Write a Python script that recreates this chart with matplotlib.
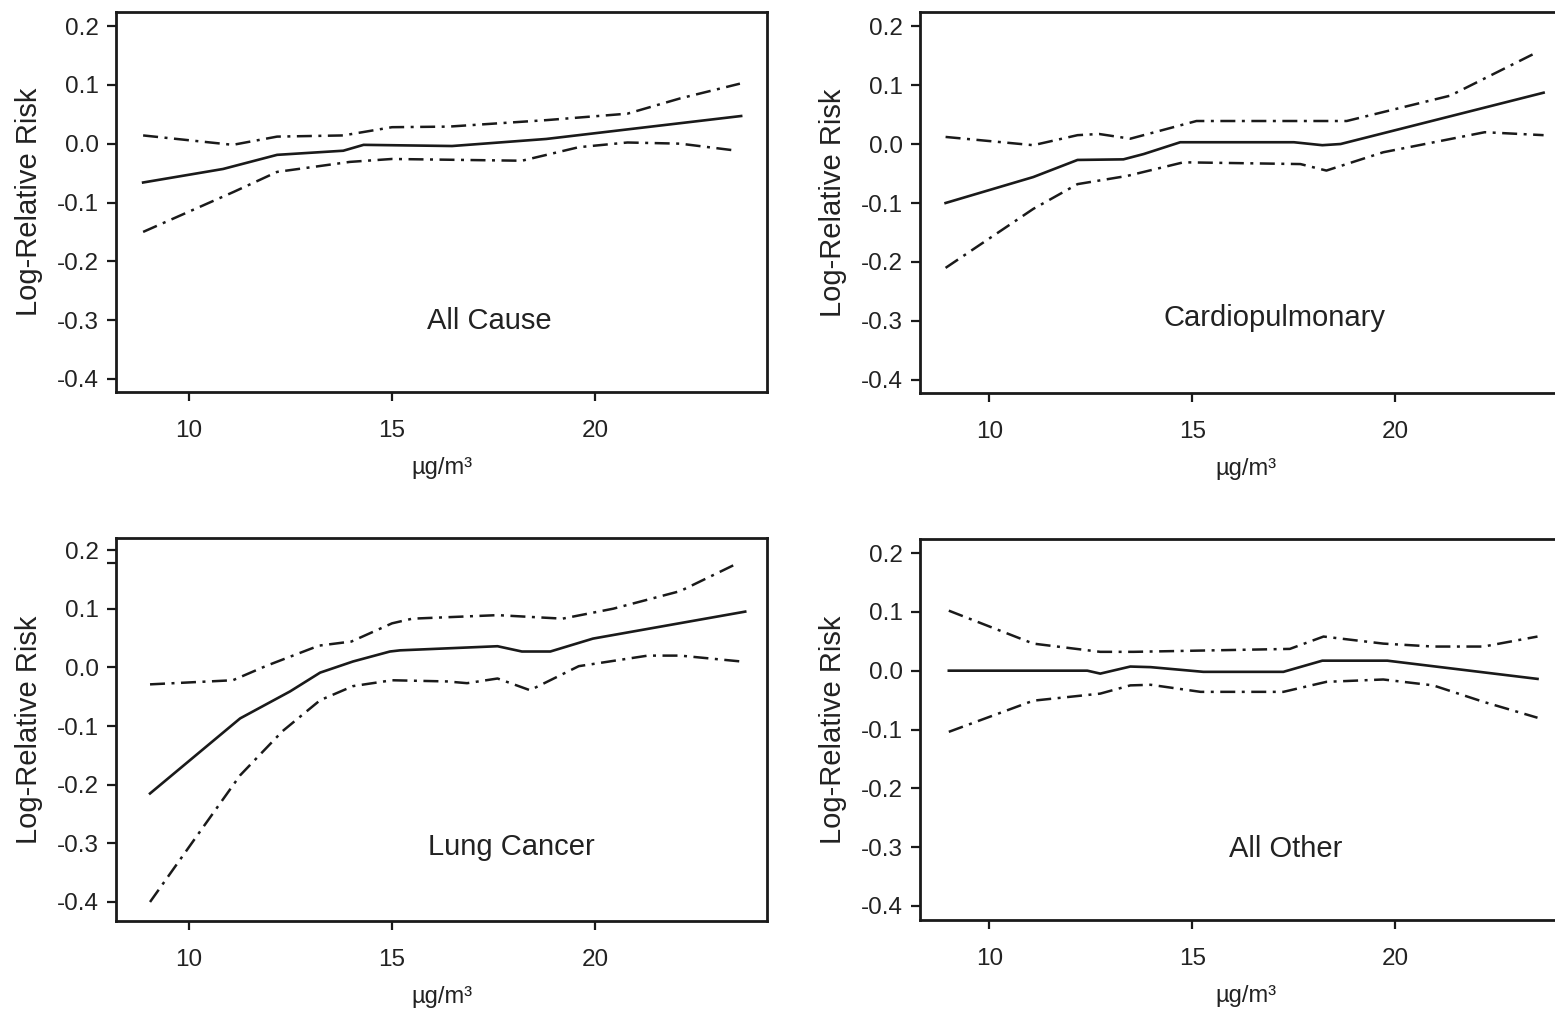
import matplotlib

matplotlib.use("Agg")
import matplotlib.pyplot as plt

plt.rcParams["font.family"] = ["Liberation Sans", "DejaVu Sans"]

# PM2.5 concentration (ug/m3) vs log-relative risk
# All Cause
ac_x = [8.87, 10.84, 12.17, 13.8, 14.3, 16.48, 18.8, 23.6]
ac_fit = [-0.066, -0.043, -0.019, -0.012, -0.002, -0.004, 0.008, 0.047]
ac_up_x = [8.87, 11.08, 12.17, 13.8, 15.0, 16.4, 18.8, 20.8, 22.1, 23.57]
ac_up = [0.014, -0.002, 0.012, 0.014, 0.028, 0.029, 0.040, 0.051, 0.077, 0.102]
ac_lo_x = [8.87, 11.1, 12.17, 13.96, 15.0, 18.2, 19.6, 20.8, 22.1, 23.5]
ac_lo = [-0.150, -0.082, -0.048, -0.031, -0.026, -0.029, -0.006, 0.002, 0.0, -0.012]

# Cardiopulmonary
cp_x = [8.92, 11.08, 12.17, 13.3, 13.8, 14.7, 17.5, 18.2, 18.65, 23.65]
cp_fit = [-0.100, -0.056, -0.027, -0.026, -0.017, 0.003, 0.003, -0.002, 0.0, 0.087]
cp_up_x = [8.92, 11.08, 12.17, 12.7, 13.47, 15.1, 18.8, 21.35, 23.5]
cp_up = [0.012, -0.002, 0.015, 0.017, 0.009, 0.039, 0.039, 0.082, 0.156]
cp_lo_x = [8.92, 11.08, 12.17, 13.4, 14.78, 17.66, 18.3, 19.7, 22.2, 23.65]
cp_lo = [-0.210, -0.110, -0.068, -0.054, -0.031, -0.034, -0.045, -0.014, 0.020, 0.015]

# Lung Cancer
lc_x = [9.04, 11.26, 12.49, 13.23, 14.04, 14.95, 15.2, 17.6, 18.2, 18.9, 19.95, 23.7]
lc_fit = [-0.215, -0.087, -0.041, -0.009, 0.010, 0.027, 0.029, 0.036, 0.027, 0.027, 0.049, 0.095]
lc_up_x = [9.04, 11.08, 11.92, 13.2, 14.0, 15.0, 15.5, 17.6, 19.2, 20.45, 22.1, 23.5]
lc_up = [-0.029, -0.022, 0.003, 0.037, 0.044, 0.075, 0.083, 0.089, 0.083, 0.100, 0.130, 0.177]
lc_lo_x = [9.04, 10.27, 11.26, 12.3, 13.23, 14.04, 15.0, 16.35, 16.85, 17.6, 18.4, 19.6, 21.3, 22.1, 23.6]
lc_lo = [-0.400, -0.280, -0.184, -0.109, -0.056, -0.032, -0.022, -0.024, -0.027, -0.019,
         -0.039, 0.002, 0.020, 0.020, 0.010]

# All Other
ao_x = [9.0, 12.41, 12.73, 13.47, 13.97, 15.27, 17.24, 18.2, 19.8, 23.5]
ao_fit = [0.0, 0.0, -0.005, 0.007, 0.006, -0.002, -0.002, 0.017, 0.017, -0.014]
ao_up_x = [9.0, 11.08, 12.73, 13.55, 17.4, 18.23, 19.7, 20.93, 22.17, 23.5]
ao_up = [0.102, 0.046, 0.032, 0.032, 0.037, 0.058, 0.046, 0.041, 0.041, 0.058]
ao_lo_x = [9.0, 11.08, 12.73, 13.47, 13.97, 15.2, 17.24, 18.3, 19.7, 20.93, 22.17, 23.5]
ao_lo = [-0.104, -0.051, -0.039, -0.025, -0.024, -0.036, -0.036, -0.019, -0.015, -0.025,
         -0.053, -0.080]

panels = [
    ("All Cause", ac_x, ac_fit, ac_up_x, ac_up, ac_lo_x, ac_lo),
    ("Cardiopulmonary", cp_x, cp_fit, cp_up_x, cp_up, cp_lo_x, cp_lo),
    ("Lung Cancer", lc_x, lc_fit, lc_up_x, lc_up, lc_lo_x, lc_lo),
    ("All Other", ao_x, ao_fit, ao_up_x, ao_up, ao_lo_x, ao_lo),
]

# axes boxes in pixels (left, top, bottom), x limits, y limits, label position
W, H = 1555, 1014
boxes = [
    (116, 12, 392, (8.202, 24.237), (-0.4221, 0.2238), (0.574, 0.187)),
    (920, 12, 393, (8.29, 24.325), (-0.4221, 0.2238), (0.544, 0.197)),
    (116, 538, 921, (8.202, 24.237), (-0.4324, 0.2205), (0.608, 0.193)),
    (920, 539, 920, (8.29, 24.325), (-0.4238, 0.2238), (0.562, 0.186)),
]

fig = plt.figure(figsize=(W / 100, H / 100), dpi=100)
dashdot = (0, (6, 2.6, 1.2, 2.6))
ink = "#1a1a1a"

for (name, x, fit, ux, up, lx, lo), (left, top, bottom, xl, yl, tpos) in zip(panels, boxes):
    ax = fig.add_axes([left / W, 1 - bottom / H, 651 / W, (bottom - top) / H])
    ax.plot(x, fit, color=ink, lw=1.9, solid_joinstyle="round")
    ax.plot(ux, up, color=ink, lw=1.8, linestyle=dashdot)
    ax.plot(lx, lo, color=ink, lw=1.8, linestyle=dashdot)
    ax.set_xlim(*xl)
    ax.set_ylim(*yl)
    ax.set_xticks([10, 15, 20])
    ax.set_yticks([0.2, 0.1, 0.0, -0.1, -0.2, -0.3, -0.4])
    ax.set_yticklabels(["0.2", "0.1", "0.0", "-0.1", "-0.2", "-0.3", "-0.4"])
    for s in ax.spines.values():
        s.set_linewidth(2.0)
        s.set_color(ink)
    ax.tick_params(axis="both", length=6.5, width=1.6, color=ink,
                   labelsize=17.5, labelcolor="#222222")
    ax.tick_params(axis="x", pad=14)
    ax.tick_params(axis="y", pad=6)
    ax.set_ylabel("Log-Relative Risk", fontsize=21, color="#222222")
    ax.yaxis.set_label_coords(-0.112, 0.5)
    ax.set_xlabel("µg/m³", fontsize=17, color="#222222")
    ax.xaxis.set_label_coords(0.5, -0.17)
    ax.text(tpos[0], tpos[1], name, transform=ax.transAxes, fontsize=21,
            color="#222222", ha="center", va="center")
    if name == "Lung Cancer":
        ax.set_yticks([0.178], minor=True)
        ax.tick_params(axis="y", which="minor", length=6.5, width=1.6, color=ink)

fig.savefig("out.png", dpi=100)
